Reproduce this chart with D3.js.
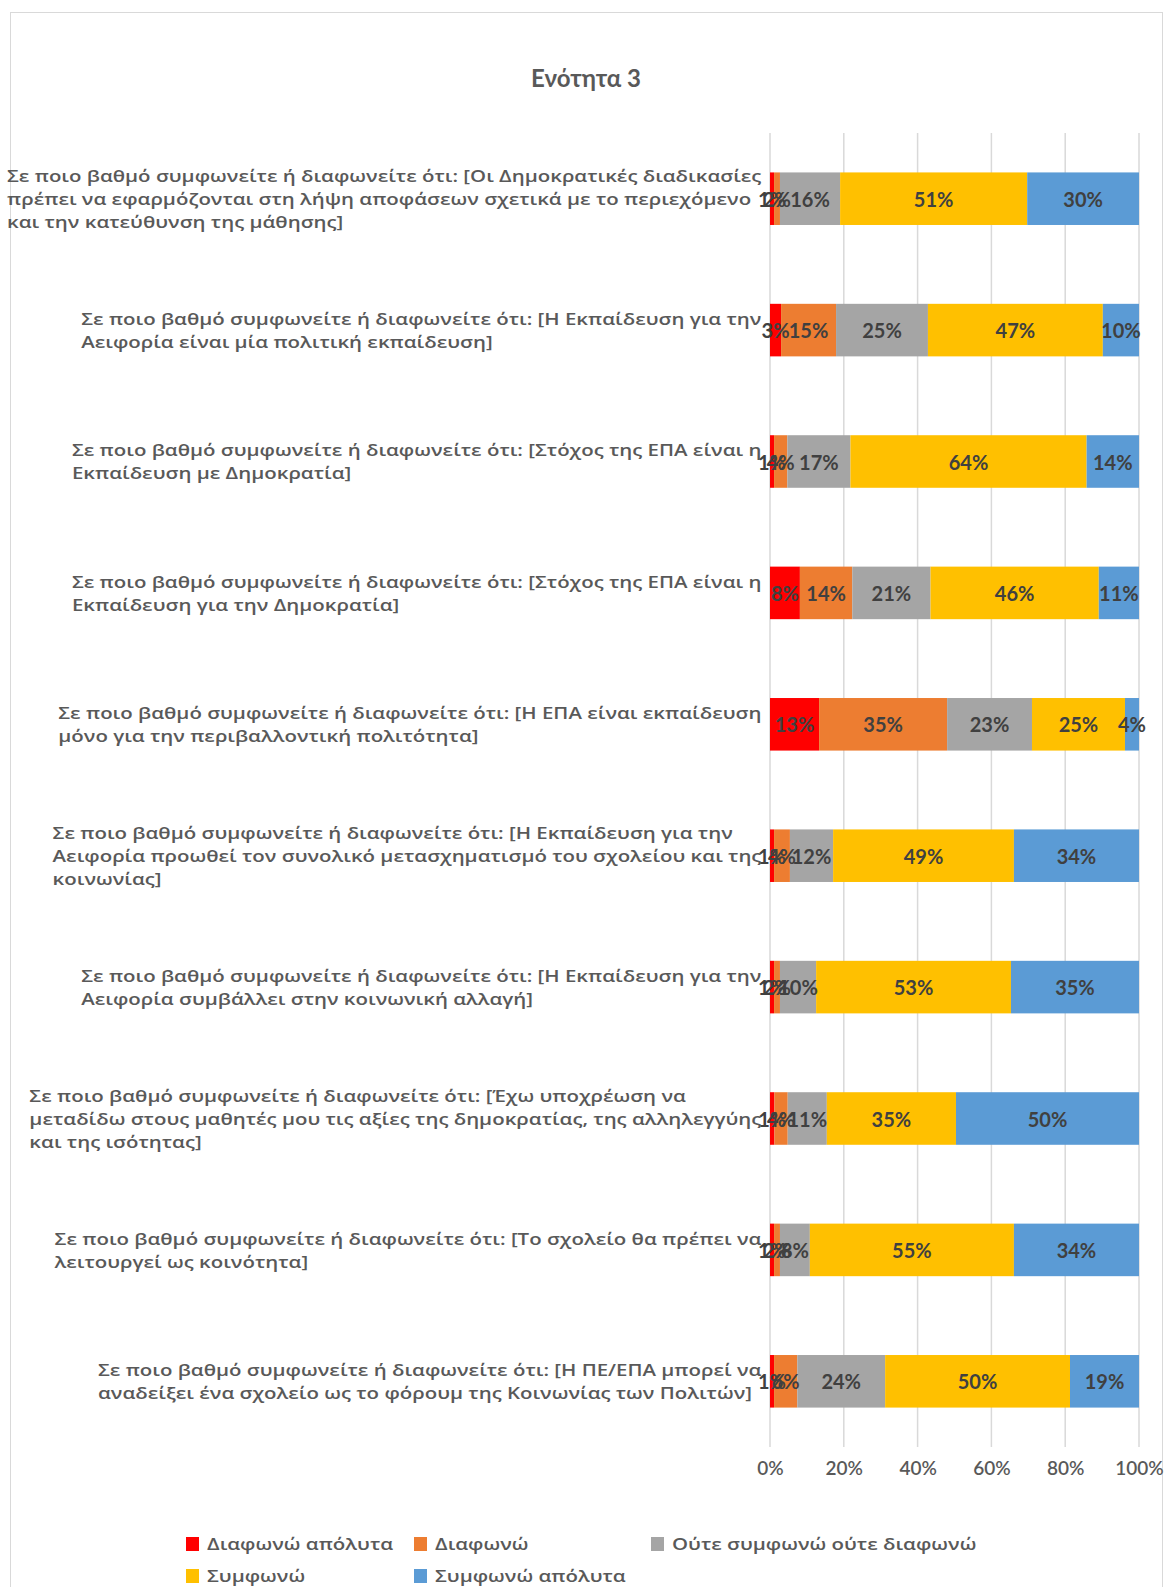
<!DOCTYPE html>
<html lang="el">

<head>
  <meta charset="utf-8">
  <title>Ενότητα 3</title>
  <script src="https://d3js.org/d3.v7.min.js" charset="utf-8"></script>
  <style type="text/css">
    body {
      margin: 0;
      background: #fff;
    }

    text {
      font-family: Lato, "Open Sans", sans-serif;
    }

    .greek {
      font-family: "Open Sans", sans-serif;
      font-weight: 600;
    }
  </style>
</head>

<body>
  <script type="text/javascript">
    // question labels, already broken into lines like the original
    var categories = [
      ["Σε ποιο βαθμό συμφωνείτε ή διαφωνείτε ότι: [Οι Δημοκρατικές διαδικασίες", "πρέπει να εφαρμόζονται στη λήψη αποφάσεων σχετικά με το περιεχόμενο", "και την κατεύθυνση της μάθησης]"],
      ["Σε ποιο βαθμό συμφωνείτε ή διαφωνείτε ότι: [Η Εκπαίδευση για την", "Αειφορία είναι μία πολιτική εκπαίδευση]"],
      ["Σε ποιο βαθμό συμφωνείτε ή διαφωνείτε ότι: [Στόχος της ΕΠΑ είναι η", "Εκπαίδευση με Δημοκρατία]"],
      ["Σε ποιο βαθμό συμφωνείτε ή διαφωνείτε ότι: [Στόχος της ΕΠΑ είναι η", "Εκπαίδευση για την Δημοκρατία]"],
      ["Σε ποιο βαθμό συμφωνείτε ή διαφωνείτε ότι: [Η ΕΠΑ είναι εκπαίδευση", "μόνο για την περιβαλλοντική πολιτότητα]"],
      ["Σε ποιο βαθμό συμφωνείτε ή διαφωνείτε ότι: [Η Εκπαίδευση για την", "Αειφορία προωθεί τον συνολικό μετασχηματισμό του σχολείου και της", "κοινωνίας]"],
      ["Σε ποιο βαθμό συμφωνείτε ή διαφωνείτε ότι: [Η Εκπαίδευση για την", "Αειφορία συμβάλλει στην κοινωνική αλλαγή]"],
      ["Σε ποιο βαθμό συμφωνείτε ή διαφωνείτε ότι: [Έχω υποχρέωση να", "μεταδίδω στους μαθητές μου τις αξίες της δημοκρατίας, της αλληλεγγύης", "και της ισότητας]"],
      ["Σε ποιο βαθμό συμφωνείτε ή διαφωνείτε ότι: [Το σχολείο θα πρέπει να", "λειτουργεί ως κοινότητα]"],
      ["Σε ποιο βαθμό συμφωνείτε ή διαφωνείτε ότι: [Η ΠΕ/ΕΠΑ μπορεί να", "αναδείξει ένα σχολείο ως το φόρουμ της Κοινωνίας των Πολιτών]"]
    ];

    var seriesNames = ["Διαφωνώ απόλυτα", "Διαφωνώ", "Ούτε συμφωνώ ούτε διαφωνώ", "Συμφωνώ", "Συμφωνώ απόλυτα"];
    var colors = ["#FF0000", "#ED7D31", "#A5A5A5", "#FFC000", "#5B9BD5"];

    // percentages per question (top to bottom)
    var stronglyDisagree = [1.1, 3.0, 1.1, 8.1, 13.3, 1.1, 1.1, 1.2, 1.1, 1.1];
    var disagree = [1.6, 14.9, 3.6, 14.2, 34.7, 4.3, 1.6, 3.6, 1.6, 6.3];
    var neutral = [16.3, 24.9, 17.1, 21.2, 23.0, 11.7, 9.8, 10.6, 8.1, 23.8];
    var agree = [50.7, 47.4, 64.0, 45.6, 25.2, 49.0, 52.8, 35.0, 55.3, 50.1];
    var stronglyAgree = [30.3, 9.8, 14.2, 10.9, 3.8, 33.9, 34.7, 49.6, 33.9, 18.7];

    var tickValues = [0, 20, 40, 60, 80, 100];

    var width = 1166,
      height = 1587,
      fontSize = 19,
      labelSize = 17;

    var svg = d3.select("body")
      .append("svg")
      .attr("width", width)
      .attr("height", height);

    // chart border
    svg.append("rect")
      .attr("x", 10.5)
      .attr("y", 12.5)
      .attr("width", 1152)
      .attr("height", 1600)
      .attr("fill", "#fff")
      .attr("stroke", "#d9d9d9");

    svg.append("text")
      .attr("x", 586)
      .attr("y", 77)
      .attr("text-anchor", "middle")
      .attr("dominant-baseline", "central")
      .attr("font-size", "24px")
      .attr("font-weight", "bold")
      .attr("fill", "#595959")
      .text("Ενότητα 3");

    // original text is a bit wide: stretch the labels so the widest line spans ~755px
    var probe = svg.append("text").attr("class", "greek").attr("font-size", labelSize + "px").text(categories[0][0]);
    var sx = 755 / probe.node().getComputedTextLength();
    probe.remove();

    var x = d3.scaleLinear()
      .domain([0, 100])
      .range([770, 1139]);

    var y = d3.scaleBand()
      .domain(d3.range(categories.length))
      .range([133, 1447])
      .paddingInner(0.6)
      .paddingOuter(0.3);

    // gridlines
    svg.append("g")
      .selectAll("line")
      .data(tickValues)
      .enter()
      .append("line")
      .attr("x1", function (d) { return x(d); })
      .attr("x2", function (d) { return x(d); })
      .attr("y1", 133)
      .attr("y2", 1447)
      .attr("stroke", "#d9d9d9")
      .attr("stroke-width", 1.5);

    var rows = categories.map(function (c, i) {
      return {
        i: i,
        v0: stronglyDisagree[i],
        v1: disagree[i],
        v2: neutral[i],
        v3: agree[i],
        v4: stronglyAgree[i]
      };
    });

    var stacked = d3.stack().keys(["v0", "v1", "v2", "v3", "v4"])(rows);

    var layers = svg.append("g")
      .selectAll("g")
      .data(stacked)
      .enter()
      .append("g")
      .attr("fill", function (d, k) { return colors[k]; });

    layers.selectAll("rect")
      .data(function (d) { return d; })
      .enter()
      .append("rect")
      .attr("x", function (d) { return x(d[0]); })
      .attr("y", function (d) { return y(d.data.i); })
      .attr("width", function (d) { return x(d[1]) - x(d[0]); })
      .attr("height", y.bandwidth());

    // data labels
    svg.append("g")
      .selectAll("g")
      .data(stacked)
      .enter()
      .append("g")
      .selectAll("text")
      .data(function (d) { return d; })
      .enter()
      .append("text")
      .attr("x", function (d) { return (x(d[0]) + x(d[1])) / 2; })
      .attr("y", function (d) { return y(d.data.i) + y.bandwidth() / 2; })
      .attr("text-anchor", "middle")
      .attr("dominant-baseline", "central")
      .attr("font-size", "20px")
      .attr("font-weight", "bold")
      .attr("fill", "#404040")
      .text(function (d) { return Math.round(d[1] - d[0]) + "%"; });

    // category labels: lines left aligned, block right aligned
    var labelRight = 762,
      lineHeight = 23;

    categories.forEach(function (lines, i) {
      var g = svg.append("g");
      var cy = y(i) + y.bandwidth() / 2;
      var t = g.selectAll("text")
        .data(lines)
        .enter()
        .append("text")
        .attr("class", "greek")
        .attr("x", 0)
        .attr("y", function (d, k) { return cy + (k - (lines.length - 1) / 2) * lineHeight; })
        .attr("dominant-baseline", "central")
        .attr("font-size", labelSize + "px")
        .attr("fill", "#595959")
        .text(function (d) { return d; });
      var maxW = d3.max(t.nodes(), function (n) { return n.getComputedTextLength(); });
      g.attr("transform", "translate(" + (labelRight - maxW * sx) + ",0) scale(" + sx + ",1)");
    });

    // x axis
    svg.append("g")
      .attr("transform", "translate(0,1467)")
      .call(d3.axisBottom(x).tickValues(tickValues).tickSize(0).tickFormat(function (d) { return d + "%"; }))
      .call(function (g) { g.select(".domain").remove(); })
      .selectAll("text")
      .attr("y", 0)
      .attr("dy", null)
      .attr("dominant-baseline", "central")
      .attr("font-size", fontSize + "px")
      .attr("font-weight", 600)
      .attr("font-family", null)
      .attr("fill", "#595959");

    // legend
    var legendPos = [[186, 1544], [414, 1544], [651, 1544], [186, 1576], [414, 1576]];

    var legend = svg.append("g")
      .selectAll("g")
      .data(seriesNames)
      .enter()
      .append("g")
      .attr("transform", function (d, k) { return "translate(" + legendPos[k][0] + "," + legendPos[k][1] + ")"; });

    legend.append("rect")
      .attr("x", 0)
      .attr("y", -7)
      .attr("width", 13)
      .attr("height", 14)
      .attr("fill", function (d, k) { return colors[k]; });

    legend.append("text")
      .attr("class", "greek")
      .attr("transform", "translate(21,0) scale(" + sx + ",1)")
      .attr("dominant-baseline", "central")
      .attr("font-size", labelSize + "px")
      .attr("fill", "#595959")
      .text(function (d) { return d; });
  </script>
</body>

</html>
